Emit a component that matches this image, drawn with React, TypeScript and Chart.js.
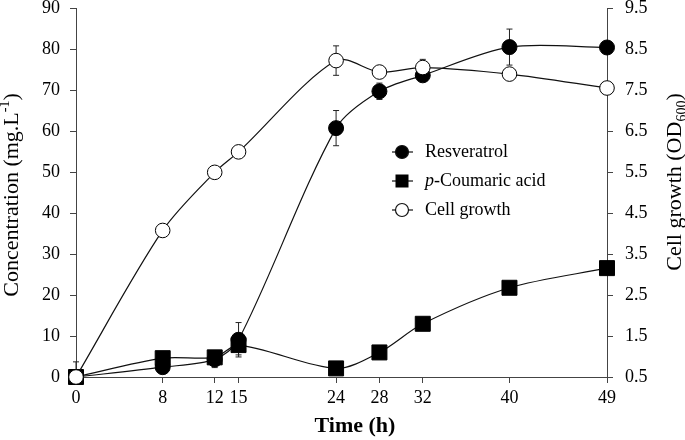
import React, { useEffect, useRef } from "react";
import { Chart, registerables } from "chart.js";

Chart.register(...registerables);

// ---- data ----
const times = [0, 8, 12.8, 15, 24, 28, 32, 40, 49];
const xTickValues = [0, 8, 12.8, 15, 24, 28, 32, 40, 49];
const xTickLabels = ["0", "8", "12", "15", "24", "28", "32", "40", "49"];

const resveratrol = [0, 2.4, 4.3, 9.1, 60.8, 69.8, 73.7, 80.6, 80.5];
const resveratrolErr = [3.7, 0, 2.0, 4.2, 4.3, 2.0, 0.8, 4.4, 0];

const coumaric = [0, 4.6, 4.8, 7.8, 2.1, 6.0, 13.0, 21.8, 26.6];
const coumaricErr = [0, 0, 0, 2.4, 0, 0, 0, 0, 0];

const cellGrowth = [0.5, 4.08, 5.5, 6.0, 8.23, 7.95, 8.06, 7.9, 7.56];
const cellGrowthErr = [0, 0, 0, 0, 0.36, 0, 0.2, 0, 0];

const yLeftTicks = [0, 10, 20, 30, 40, 50, 60, 70, 80, 90];
const yRightTicks = [0.5, 1.5, 2.5, 3.5, 4.5, 5.5, 6.5, 7.5, 8.5, 9.5];

const seriesNames = ["Resveratrol", "-Coumaric acid", "Cell growth"];

const FONT = "'Liberation Serif', 'Times New Roman', serif";
const SHIFT = 3; // canvas is placed SHIFT px above the page top

type Part = { t: string; size: number; dy?: number; italic?: boolean; bold?: boolean };

function drawRich(ctx: CanvasRenderingContext2D, parts: Part[], x: number, y: number, align: "left" | "center") {
  const fontOf = (p: Part) => `${p.italic ? "italic " : ""}${p.bold ? "bold " : ""}${p.size}px ${FONT}`;
  let total = 0;
  for (const p of parts) {
    ctx.font = fontOf(p);
    total += ctx.measureText(p.t).width;
  }
  let cx = align === "center" ? x - total / 2 : x;
  ctx.textAlign = "left";
  for (const p of parts) {
    ctx.font = fontOf(p);
    ctx.fillText(p.t, cx, y + (p.dy || 0));
    cx += ctx.measureText(p.t).width;
  }
}

const overlayPlugin = {
  id: "overlay",
  beforeDatasetsDraw(chart: any) {
    const ctx: CanvasRenderingContext2D = chart.ctx;
    const xs = chart.scales.x;
    const area = chart.chartArea;
    const sets = [
      { vals: resveratrol, errs: resveratrolErr, axis: "y" },
      { vals: coumaric, errs: coumaricErr, axis: "y" },
      { vals: cellGrowth, errs: cellGrowthErr, axis: "y2" },
    ];
    ctx.save();
    ctx.beginPath();
    ctx.rect(area.left - 10, 0, area.right - area.left + 20, area.bottom);
    ctx.clip();
    ctx.strokeStyle = "#222";
    ctx.lineWidth = 1;
    for (const s of sets) {
      const ys = chart.scales[s.axis];
      s.vals.forEach((v, i) => {
        const e = s.errs[i];
        if (!e) return;
        const px = xs.getPixelForValue(times[i]);
        const top = ys.getPixelForValue(v + e);
        const bot = ys.getPixelForValue(v - e);
        ctx.beginPath();
        ctx.moveTo(px, top);
        ctx.lineTo(px, bot);
        ctx.moveTo(px - 3, top);
        ctx.lineTo(px + 3, top);
        ctx.moveTo(px - 3, bot);
        ctx.lineTo(px + 3, bot);
        ctx.stroke();
      });
    }
    ctx.restore();
  },
  afterDraw(chart: any) {
    const ctx: CanvasRenderingContext2D = chart.ctx;
    ctx.save();
    ctx.translate(0, SHIFT);
    ctx.fillStyle = "#000";
    ctx.textBaseline = "alphabetic";

    // left axis title
    ctx.save();
    ctx.translate(18, 195);
    ctx.rotate(-Math.PI / 2);
    drawRich(
      ctx,
      [
        { t: "Concentration (mg.L", size: 22 },
        { t: "-1", size: 14, dy: -9 },
        { t: ")", size: 22 },
      ],
      0,
      0,
      "center"
    );
    ctx.restore();

    // right axis title
    ctx.save();
    ctx.translate(681, 182);
    ctx.rotate(-Math.PI / 2);
    drawRich(
      ctx,
      [
        { t: "Cell growth (OD", size: 22 },
        { t: "600", size: 14, dy: 5 },
        { t: ")", size: 22 },
      ],
      0,
      0,
      "center"
    );
    ctx.restore();

    // x axis title
    drawRich(ctx, [{ t: "Time (h)", size: 22, bold: true }], 355, 432, "center");

    // legend
    const rows = [152, 181, 210];
    const mx = 402;
    ctx.strokeStyle = "#111";
    ctx.lineWidth = 1.2;
    rows.forEach((ry, i) => {
      ctx.beginPath();
      ctx.moveTo(mx - 10, ry);
      ctx.lineTo(mx + 11, ry);
      ctx.stroke();
      ctx.beginPath();
      if (i === 1) {
        ctx.fillStyle = "#000";
        ctx.fillRect(mx - 6.5, ry - 6.5, 13, 13);
      } else {
        ctx.arc(mx, ry, 6.5, 0, Math.PI * 2);
        ctx.fillStyle = i === 0 ? "#000" : "#fff";
        ctx.fill();
        ctx.stroke();
      }
      ctx.fillStyle = "#000";
      ctx.textBaseline = "middle";
      if (i === 1) {
        drawRich(
          ctx,
          [
            { t: "p", size: 18, italic: true },
            { t: seriesNames[1], size: 18 },
          ],
          425,
          ry,
          "left"
        );
      } else {
        drawRich(ctx, [{ t: seriesNames[i], size: 18 }], 425, ry, "left");
      }
    });
    ctx.restore();
  },
};

export default function App() {
  const ref = useRef<HTMLCanvasElement | null>(null);

  useEffect(() => {
    if (!ref.current) return;
    const toXY = (vals: number[]) => vals.map((v, i) => ({ x: times[i], y: v }));
    const axisColor = "#444";
    const tickFont = { family: FONT, size: 18 };

    const chart = new Chart(ref.current, {
      type: "line",
      data: {
        datasets: [
          {
            label: "Resveratrol",
            data: toXY(resveratrol),
            yAxisID: "y",
            borderColor: "#111",
            borderWidth: 1.2,
            pointStyle: "circle",
            pointRadius: 7.5,
            pointBackgroundColor: "#000",
            pointBorderColor: "#000",
            pointBorderWidth: 1,
            tension: 0.3,
            clip: false,
            order: 3,
          },
          {
            label: "p-Coumaric acid",
            data: toXY(coumaric),
            yAxisID: "y",
            borderColor: "#111",
            borderWidth: 1.2,
            pointStyle: "rect",
            pointRadius: 10.6,
            pointBackgroundColor: "#000",
            pointBorderColor: "#000",
            pointBorderWidth: 1,
            tension: 0.3,
            clip: false,
            order: 2,
          },
          {
            label: "Cell growth",
            data: toXY(cellGrowth),
            yAxisID: "y2",
            borderColor: "#111",
            borderWidth: 1.2,
            pointStyle: "circle",
            pointRadius: 7.3,
            pointBackgroundColor: "#fff",
            pointBorderColor: "#000",
            pointBorderWidth: 1,
            tension: 0.3,
            clip: false,
            order: 1,
          },
        ] as any,
      },
      options: {
        animation: false,
        responsive: false,
        maintainAspectRatio: false,
        layout: { padding: { top: 4, left: 0, right: 0, bottom: 0 } },
        plugins: { legend: { display: false }, tooltip: { enabled: false } },
        scales: {
          x: {
            type: "linear",
            min: 0,
            max: 49,
            afterBuildTicks: (scale: any) => {
              scale.ticks = xTickValues.map((v) => ({ value: v }));
            },
            afterFit: (scale: any) => {
              scale.height = 63;
              scale.paddingLeft = 0;
              scale.paddingRight = 0;
            },
            ticks: {
              color: "#000",
              font: tickFont,
              padding: 4,
              maxRotation: 0,
              autoSkip: false,
              callback: (v: any) => {
                const i = xTickValues.indexOf(Number(v));
                return i >= 0 ? xTickLabels[i] : "";
              },
            },
            grid: { drawOnChartArea: false, drawTicks: true, tickLength: 6, color: axisColor },
            border: { display: true, color: axisColor, width: 1 },
          },
          y: {
            type: "linear",
            position: "left",
            min: 0,
            max: 90,
            afterBuildTicks: (scale: any) => {
              scale.ticks = yLeftTicks.map((v) => ({ value: v }));
            },
            afterFit: (scale: any) => {
              scale.width = 76;
              scale.paddingTop = 0;
              scale.paddingBottom = 0;
            },
            ticks: { color: "#000", font: tickFont, padding: 10 },
            grid: { drawOnChartArea: false, drawTicks: true, tickLength: 6, color: axisColor },
            border: { display: true, color: axisColor, width: 1 },
          },
          y2: {
            type: "linear",
            position: "right",
            min: 0.5,
            max: 9.5,
            afterBuildTicks: (scale: any) => {
              scale.ticks = yRightTicks.map((v) => ({ value: v }));
            },
            afterFit: (scale: any) => {
              scale.width = 78;
              scale.paddingTop = 0;
              scale.paddingBottom = 0;
            },
            ticks: { color: "#000", font: tickFont, padding: 12, callback: (v: any) => Number(v).toFixed(1) },
            grid: { drawOnChartArea: false, drawTicks: true, tickLength: 6, color: axisColor },
            border: { display: true, color: axisColor, width: 1 },
          },
        },
      } as any,
      plugins: [overlayPlugin],
    });
    return () => chart.destroy();
  }, []);

  return (
    <div style={{ position: "absolute", left: 0, top: 0, width: 685, height: 440, overflow: "hidden", background: "#fff" }}>
      <canvas
        ref={ref}
        width={685}
        height={440 + SHIFT}
        style={{ position: "absolute", left: 0, top: -SHIFT, width: 685, height: 440 + SHIFT, display: "block" }}
      />
    </div>
  );
}
